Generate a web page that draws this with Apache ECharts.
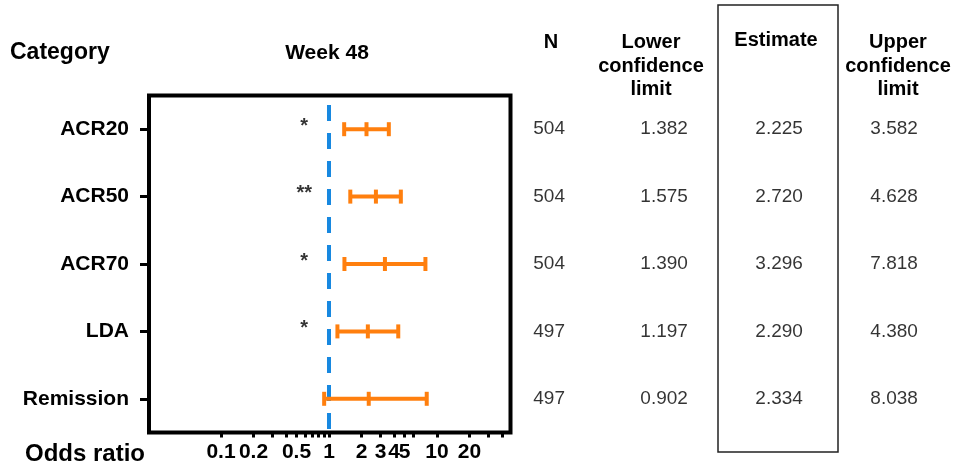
<!DOCTYPE html>
<html>
<head>
<meta charset="utf-8">
<script src="https://cdn.jsdelivr.net/npm/echarts@6/dist/echarts.min.js"></script>
<style>
  html, body { margin: 0; padding: 0; background: #ffffff; }
  #chart { width: 958px; height: 466px; }
</style>
</head>
<body>
<div id="chart"></div>
<script>
// Odds ratios (week 48) with 95% confidence limits
const categories = ['ACR20', 'ACR50', 'ACR70', 'LDA', 'Remission'];
const nValues = [504, 504, 504, 497, 497];
const lowerCL = [1.382, 1.575, 1.390, 1.197, 0.902];
const estimates = [2.225, 2.720, 3.296, 2.290, 2.334];
const upperCL = [3.582, 4.628, 7.818, 4.380, 8.038];
const significance = ['*', '**', '*', '*', ''];

// Log-scale ticks and the subset that carries labels
const tickValues = [0.1, 0.2, 0.3, 0.4, 0.5, 0.6, 0.7, 0.8, 0.9, 1, 2, 3, 4, 5, 6, 10, 20, 30, 40];
const tickLabels = [0.1, 0.2, 0.5, 1, 2, 3, 4, 5, 10, 20];
const referenceRatio = [1];
const tableColumns = ['N', 'Lower confidence limit', 'Estimate', 'Upper confidence limit'];

const ORANGE = '#ff7f0e';
const BLUE = '#1788e0';
const FONT = '"Liberation Sans", Arial, sans-serif';
const lg = v => Math.log10(v);
const fmtTick = v => String(parseFloat(Math.pow(10, v).toPrecision(2)));

// The x axis is an odds-ratio axis drawn on log10 values
const intervalData = categories.map((c, i) => [lg(lowerCL[i]), lg(estimates[i]), lg(upperCL[i]), i]);
const STAR_AT = lg(0.59);
const starData = categories
  .map((c, i) => [STAR_AT, i, significance[i]])
  .filter(d => d[2] !== '');

const tableData = [];
categories.forEach((c, i) => {
  tableData.push([0, i, String(nValues[i])]);
  tableData.push([1, i, lowerCL[i].toFixed(3)]);
  tableData.push([2, i, estimates[i].toFixed(3)]);
  tableData.push([3, i, upperCL[i].toFixed(3)]);
});

// Confidence interval: horizontal bar with end caps and a mid tick at the estimate
function renderInterval(params, api) {
  const row = api.value(3);
  const lo = api.coord([api.value(0), row]);
  const est = api.coord([api.value(1), row]);
  const hi = api.coord([api.value(2), row]);
  const h = 7;
  const style = { stroke: ORANGE, lineWidth: 4, lineCap: 'butt' };
  const vbar = p => ({ type: 'line', shape: { x1: p[0], y1: p[1] - h, x2: p[0], y2: p[1] + h }, style });
  return {
    type: 'group',
    children: [
      { type: 'line', shape: { x1: lo[0], y1: lo[1], x2: hi[0], y2: hi[1] }, style },
      vbar(lo), vbar(est), vbar(hi)
    ]
  };
}

// Dashed no-effect line spanning the full plot height
function renderReference(params, api) {
  const cs = params.coordSys;
  const x = api.coord([api.value(0), 0])[0];
  return {
    type: 'line',
    shape: { x1: x, y1: cs.y, x2: x, y2: cs.y + cs.height },
    style: { stroke: BLUE, lineWidth: 4, lineDash: [16, 12], lineDashOffset: 18.5 }
  };
}

const chart = echarts.init(document.getElementById('chart'), null, { renderer: 'canvas' });

const headerText = (text, x, y) => ({
  type: 'text', x, y,
  style: {
    text, font: 'bold 20px ' + FONT, fill: '#000',
    textAlign: 'center', textVerticalAlign: 'top', lineHeight: 23.5
  }
});

chart.setOption({
  animation: false,
  backgroundColor: '#ffffff',
  textStyle: { fontFamily: FONT },
  grid: [
    { left: 149, top: 95.5, right: 447.5, bottom: 33.5, show: true, borderColor: '#000', borderWidth: 4, backgroundColor: 'transparent', z: 3 },
    { left: 491.6, top: 95.5, right: 6.4, bottom: 33.5 }
  ],
  xAxis: [
    {
      type: 'value', gridIndex: 0,
      min: -1.667, max: 1.681,
      axisLine: { show: false },
      splitLine: { show: false },
      axisTick: {
        show: true, inside: false, length: 5,
        lineStyle: { color: '#000', width: 3 },
        customValues: tickValues.map(lg)
      },
      axisLabel: {
        show: true, margin: 9,
        customValues: tickLabels.map(lg),
        formatter: fmtTick,
        color: '#000', fontSize: 21, fontWeight: 'bold', fontFamily: FONT
      }
    },
    {
      type: 'category', gridIndex: 1, data: tableColumns,
      show: false
    }
  ],
  yAxis: [
    {
      type: 'category', gridIndex: 0, data: categories, inverse: true,
      axisLine: { show: false, onZero: false },
      axisTick: { show: true, alignWithLabel: true, length: 9, lineStyle: { color: '#000', width: 3 } },
      axisLabel: { margin: 20, color: '#000', fontSize: 21, fontWeight: 'bold', fontFamily: FONT },
      splitLine: { show: false }
    },
    {
      type: 'category', gridIndex: 1, data: categories, inverse: true, show: false
    }
  ],
  series: [
    {
      type: 'custom', xAxisIndex: 0, yAxisIndex: 0,
      renderItem: renderReference,
      encode: { x: 0 },
      data: referenceRatio.map(v => [lg(v)]),
      silent: true, z: 1
    },
    {
      type: 'custom', xAxisIndex: 0, yAxisIndex: 0,
      renderItem: renderInterval,
      encode: { x: [0, 1, 2], y: 3 },
      data: intervalData,
      z: 5
    },
    {
      type: 'scatter', xAxisIndex: 0, yAxisIndex: 0,
      symbolSize: 0, data: starData,
      label: {
        show: true, position: 'inside', offset: [0, -3],
        formatter: p => p.value[2],
        color: '#000', fontSize: 20, fontWeight: 'bold', fontFamily: FONT
      }
    },
    {
      type: 'scatter', xAxisIndex: 1, yAxisIndex: 1,
      symbolSize: 0, data: tableData,
      label: {
        show: true, position: 'inside',
        formatter: p => p.value[2],
        color: '#000', fontSize: 19, fontFamily: FONT
      }
    }
  ],
  graphic: [
    { type: 'text', x: 10, y: 53, style: { text: 'Category', font: 'bold 23px ' + FONT, fill: '#000', textVerticalAlign: 'middle' } },
    { type: 'text', x: 327, y: 53, style: { text: 'Week 48', font: 'bold 21px ' + FONT, fill: '#000', textAlign: 'center', textVerticalAlign: 'middle' } },
    { type: 'text', x: 25, y: 454, style: { text: 'Odds ratio', font: 'bold 24px ' + FONT, fill: '#000', textVerticalAlign: 'middle' } },
    headerText('N', 551, 31),
    headerText('Lower\nconfidence\nlimit', 651, 31),
    headerText('Estimate', 776, 29),
    headerText('Upper\nconfidence\nlimit', 898, 31),
    { type: 'rect', shape: { x: 718, y: 5, width: 120, height: 447 }, style: { fill: 'none', stroke: '#222', lineWidth: 1.5 } }
  ]
});
</script>
</body>
</html>
